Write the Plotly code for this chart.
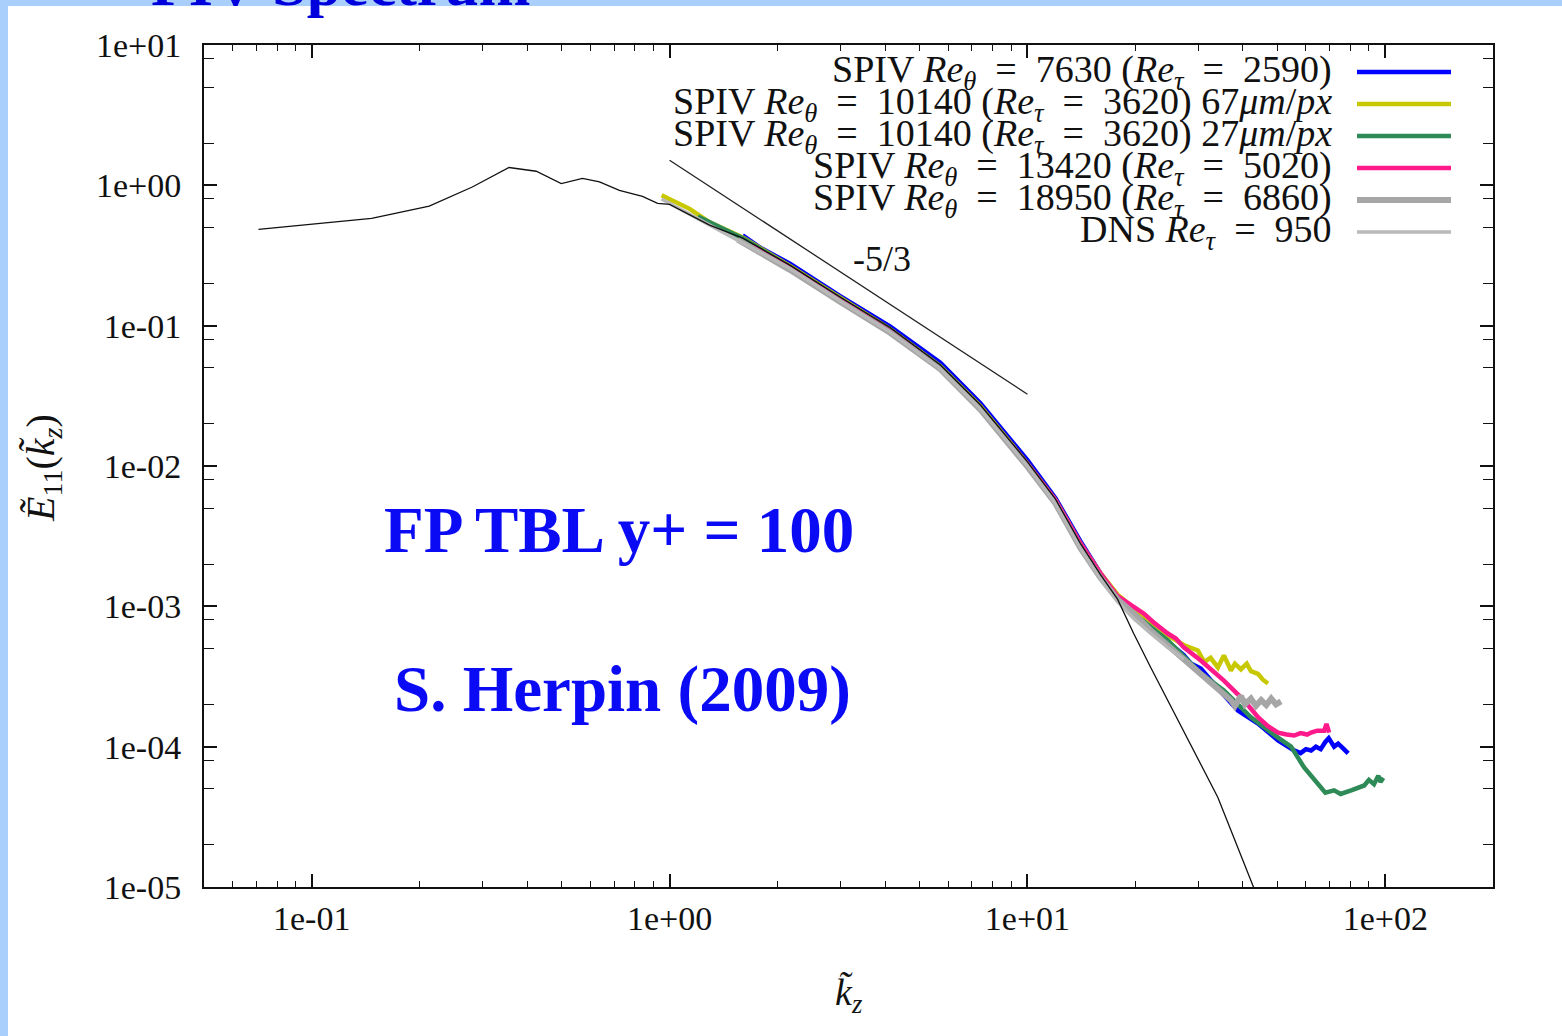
import plotly.graph_objects as go

# ---------------- data ----------------
k_blue = [1.60, 1.79, 2.17, 2.99, 4.13, 5.71, 7.39, 10.0, 11.98, 14.07, 16.0, 17.87, 19.81, 22.11, 24.67, 27.35,
          28.62, 30.52, 34.06, 38.74, 44.09, 50.15, 55.61, 58.0, 60.0, 62.05, 64.0, 66.0, 68.0, 69.5, 71.95, 73.84,
          76.0, 78.76]
E_blue = [0.44, 0.36, 0.276, 0.163, 0.099, 0.0545, 0.0280, 0.0110, 0.0059, 0.0029, 0.00172, 0.00118, 8.9e-4, 7.0e-4,
          5.6e-4, 4.5e-4, 3.92e-4, 3.6e-4, 2.6e-4, 1.81e-4, 1.46e-4, 1.11e-4, 9.4e-5, 9.0e-5, 9.6e-5, 9.4e-5, 1.0e-4,
          9.6e-5, 1.08e-4, 1.15e-4, 1.0e-4, 1.05e-4, 9.8e-5, 8.95e-5]

k_yel = [0.95, 1.138, 1.294, 1.601, 2.168, 2.994, 4.132, 5.71, 7.39, 10.0, 11.98, 14.07, 16.0, 17.87, 19.81, 22.11,
         24.67, 27.35, 29.94, 31.2, 32.5, 34.06, 35.4, 37.04, 38.0, 39.5, 41.0, 42.13, 44.09, 45.5, 47.02]
E_yel = [0.849, 0.68, 0.545, 0.425, 0.266, 0.157, 0.0945, 0.0515, 0.0266, 0.0104, 0.0057, 0.0028, 0.00172, 0.00121,
         9.8e-4, 7.7e-4, 6.2e-4, 5.3e-4, 4.85e-4, 4.0e-4, 4.3e-4, 3.67e-4, 4.47e-4, 3.49e-4, 3.9e-4, 3.55e-4, 3.9e-4,
         3.45e-4, 3.3e-4, 3.0e-4, 2.82e-4]

k_grn = [1.2, 1.601, 2.168, 2.994, 4.132, 5.71, 7.39, 10.0, 11.98, 14.07, 16.0, 17.87, 19.81, 24.67, 30.52, 35.40,
         42.13, 50.15, 54.54, 59.32, 64.91, 68.0, 71.95, 75.0, 80.3, 84.0, 87.35, 90.0, 93.0, 95.6, 97.0, 98.7]
E_grn = [0.60, 0.42, 0.262, 0.155, 0.093, 0.051, 0.026, 0.0102, 0.0055, 0.0027, 0.00164, 0.00113, 8.9e-4, 5.72e-4,
         3.33e-4, 2.52e-4, 1.62e-4, 1.16e-4, 1.0e-4, 7.11e-5, 5.47e-5, 4.7e-5, 4.88e-5, 4.6e-5, 4.88e-5, 5.1e-5,
         5.29e-5, 5.8e-5, 5.4e-5, 6.2e-5, 5.6e-5, 6.0e-5]

k_pnk = [1.7, 2.168, 2.994, 4.132, 5.71, 7.39, 10.0, 11.98, 14.07, 16.0, 17.87, 19.81, 21.13, 22.5, 24.67, 26.0,
         27.35, 30.52, 35.40, 40.27, 44.09, 47.0, 50.15, 53.0, 55.61, 58.0, 60.5, 62.05, 64.5, 67.47, 68.5, 69.68]
E_pnk = [0.37, 0.258, 0.152, 0.091, 0.050, 0.0258, 0.0103, 0.0057, 0.0028, 0.00172, 0.00118, 1.0e-3, 8.9e-4, 7.7e-4,
         6.4e-4, 5.9e-4, 5.1e-4, 4.11e-4, 2.96e-4, 2.14e-4, 1.62e-4, 1.4e-4, 1.26e-4, 1.22e-4, 1.2e-4, 1.25e-4,
         1.22e-4, 1.26e-4, 1.3e-4, 1.30e-4, 1.45e-4, 1.26e-4]

k_gry = [1.55, 2.168, 2.994, 4.132, 5.71, 7.39, 10.0, 11.98, 14.07, 16.0, 17.87, 19.81, 22.11, 24.67, 27.35, 30.52,
         34.06, 37.04, 38.0, 39.5, 40.5, 42.13, 43.5, 45.0, 46.5, 48.0, 49.5, 51.13]
E_gry = [0.41, 0.250, 0.148, 0.089, 0.049, 0.0252, 0.0099, 0.0054, 0.0026, 0.00160, 0.00112, 8.9e-4, 6.73e-4,
         5.26e-4, 4.11e-4, 3.22e-4, 2.52e-4, 2.14e-4, 1.95e-4, 2.3e-4, 2.0e-4, 2.2e-4, 1.95e-4, 2.15e-4, 1.98e-4,
         2.2e-4, 2.0e-4, 2.1e-4]

k_dns = [0.95, 1.294, 2.168, 2.994, 4.132, 5.71, 7.39, 10.0, 11.98, 14.07, 16.0, 17.87, 19.81, 22.11, 24.67, 27.35]
E_dns = [0.80, 0.52, 0.255, 0.150, 0.090, 0.049, 0.0255, 0.0100, 0.0054, 0.0026, 0.00158, 0.00108, 8.2e-4, 6.4e-4,
         5.1e-4, 4.2e-4]

k_model = [0.0710, 0.147, 0.213, 0.281, 0.356, 0.424, 0.498, 0.571, 0.637, 0.724, 0.840, 0.926, 1.0, 1.294, 1.601,
           2.168, 2.994, 4.132, 5.71, 7.39, 10.0, 11.98, 14.07, 16.0, 17.87, 19.81, 22.11, 27.35, 34.06, 42.96, 44.5]
E_model = [0.486, 0.582, 0.712, 0.973, 1.34, 1.26, 1.03, 1.12, 1.06, 0.921, 0.835, 0.744, 0.732, 0.52, 0.42, 0.27,
           0.160, 0.097, 0.0525, 0.0272, 0.0107, 0.0058, 0.0028, 0.00168, 0.00112, 6.4e-4, 3.67e-4, 1.30e-4, 4.35e-5,
           9.8e-6, 8.0e-6]

k_slope = [1.0, 10.0]
E_slope = [1.51, 0.0325]

EQ = "\u2002=\u2002"
series_names = [
    f"SPIV <i>Re</i><sub><i>θ</i></sub>{EQ}7630 (<i>Re</i><sub><i>τ</i></sub>{EQ}2590)",
    f"SPIV <i>Re</i><sub><i>θ</i></sub>{EQ}10140 (<i>Re</i><sub><i>τ</i></sub>{EQ}3620) 67<i>μm</i>/<i>px</i>",
    f"SPIV <i>Re</i><sub><i>θ</i></sub>{EQ}10140 (<i>Re</i><sub><i>τ</i></sub>{EQ}3620) 27<i>μm</i>/<i>px</i>",
    f"SPIV <i>Re</i><sub><i>θ</i></sub>{EQ}13420 (<i>Re</i><sub><i>τ</i></sub>{EQ}5020)",
    f"SPIV <i>Re</i><sub><i>θ</i></sub>{EQ}18950 (<i>Re</i><sub><i>τ</i></sub>{EQ}6860)",
    f"DNS <i>Re</i><sub><i>τ</i></sub>{EQ}950",
]
series_colors = ["#0000ff", "#c8c800", "#2e8b57", "#ff1a8c", "#a6a6a6", "#b8b8b8"]
series_widths = [4.5, 4.5, 4.5, 4.5, 6, 3.5]
series_k = [k_blue, k_yel, k_grn, k_pnk, k_gry, k_dns]
series_E = [E_blue, E_yel, E_grn, E_pnk, E_gry, E_dns]

x_tickvals = [0.1, 1, 10, 100]
x_ticktext = ["1e-01", "1e+00", "1e+01", "1e+02"]
y_tickvals = [1e1, 1e0, 1e-1, 1e-2, 1e-3, 1e-4, 1e-5]
y_ticktext = ["1e+01", "1e+00", "1e-01", "1e-02", "1e-03", "1e-04", "1e-05"]
y_minor = [m * 10.0 ** e for e in range(-5, 1) for m in (2, 5, 8)]

# ---------------- layout geometry (pixels) ----------------
W, H = 1562, 1036
L, R, T, B = 204, 1493, 45, 887


def px(x):
    return (x - L) / (R - L)


def py(y):
    return (B - y) / (B - T)


SERIF = "Liberation Serif"
INK = "#111111"

fig = go.Figure()
for k, E, c, w in zip(series_k, series_E, series_colors, series_widths):
    fig.add_trace(go.Scatter(x=k, y=E, mode="lines", line=dict(color=c, width=w), showlegend=False,
                             hoverinfo="skip"))
fig.add_trace(go.Scatter(x=k_model, y=E_model, mode="lines", line=dict(color=INK, width=1.3),
                         showlegend=False, hoverinfo="skip"))
fig.add_trace(go.Scatter(x=k_slope, y=E_slope, mode="lines", line=dict(color="#222222", width=1.3),
                         showlegend=False, hoverinfo="skip"))

shapes = []
annotations = []
# slide background: white page over light-blue frame
shapes.append(dict(type="rect", xref="paper", yref="paper", layer="below",
                   x0=px(8), x1=px(W + 10), y0=py(H + 10), y1=py(6),
                   fillcolor="white", line=dict(width=0)))


def note(x, y, text, size, color=INK, xanchor="center", yanchor="middle", **kw):
    annotations.append(dict(xref="paper", yref="paper", x=px(x), y=py(y), xanchor=xanchor, yanchor=yanchor,
                            text=text, showarrow=False, font=dict(family=SERIF, size=size, color=color), **kw))


# manual gnuplot-style legend (text right-aligned, sample on the right)
row_y = [72, 104, 136, 168, 200, 232]
for name, c, w, yy in zip(series_names, series_colors, series_widths, row_y):
    note(1334, yy, name, 38, xanchor="right")
    shapes.append(dict(type="line", xref="paper", yref="paper", x0=px(1357), x1=px(1451), y0=py(yy), y1=py(yy),
                       line=dict(color=c, width=w)))

note(882, 259, "-5/3", 36)
note(619, 530, "<b>FP TBL y+ = 100</b>", 65, color="#0a0af5")
note(622, 689, "<b>S. Herpin (2009)</b>", 65, color="#0a0af5")
note(43, 468, "<i>Ẽ</i><sub>11</sub>(<i>k̃</i><sub><i>z</i></sub>)", 40, textangle=-90)
note(848, 995, "<i>k̃</i><sub><i>z</i></sub>", 38)
note(532, 20, "<b>PIV Spectrum</b>", 62, color="#0000dd", xanchor="right", yanchor="bottom")

axis_common = dict(type="log", showgrid=False, zeroline=False, showline=True, linecolor=INK,
                   linewidth=2, mirror="ticks", ticks="inside", tickcolor=INK, tickwidth=1.5,
                   tickfont=dict(family=SERIF, size=34, color=INK))

fig.update_xaxes(**axis_common, range=[-1.30103, 2.30103], tickvals=x_tickvals, ticktext=x_ticktext,
                 ticklen=13, ticklabelstandoff=0,
                 minor=dict(ticks="inside", ticklen=6, tickwidth=1.2, tickcolor=INK, dtick="D1"))
fig.update_yaxes(**axis_common, range=[-5, 1], tickvals=y_tickvals, ticktext=y_ticktext,
                 ticklen=13, ticklabelstandoff=14,
                 minor=dict(ticks="inside", ticklen=10, tickwidth=1.2, tickcolor=INK, tickvals=y_minor))

fig.update_layout(width=W, height=H, autosize=False,
                  margin=dict(l=L, r=W - R, t=T, b=H - B, pad=0),
                  paper_bgcolor="#a9d0fd", plot_bgcolor="white",
                  shapes=shapes, annotations=annotations, showlegend=False)

fig.write_html("out.html")
